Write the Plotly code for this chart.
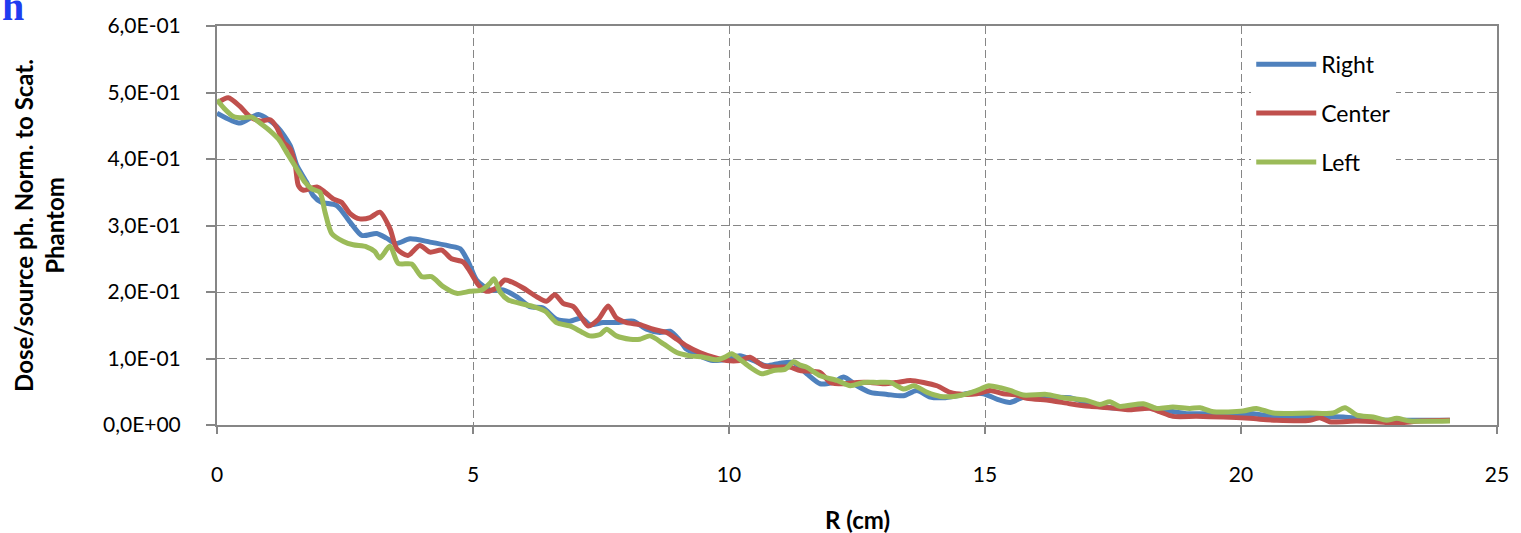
import plotly.graph_objects as go

# Radial dose profiles (R in cm, dose per source photon normalised to the scatter phantom)
r_right = [0.0, 0.45, 0.81, 1.17, 1.43, 1.56, 1.75, 1.88, 2.04, 2.34, 2.6, 2.83, 3.12, 3.31, 3.5,
           3.77, 4.16, 4.55, 4.75, 4.91, 5.07, 5.33, 5.59, 5.85, 6.11, 6.37, 6.63, 6.89, 7.12, 7.28,
           7.54, 7.8, 8.13, 8.39, 8.65, 8.85, 9.04, 9.17, 9.43, 9.69, 9.95, 10.21, 10.47, 10.73,
           11.0, 11.26, 11.52, 11.78, 12.04, 12.24, 12.5, 12.76, 13.09, 13.41, 13.67, 13.93, 14.19,
           14.45, 14.71, 14.97, 15.23, 15.49, 15.82, 16.27, 16.66, 17.05, 17.44, 17.83, 18.22,
           18.61, 18.94, 19.39, 19.92, 20.24, 20.7, 21.35, 22.0, 22.52, 23.3, 24.08]
dose_right = [0.469, 0.454, 0.467, 0.449, 0.42, 0.39, 0.365, 0.345, 0.335, 0.33, 0.305, 0.285, 0.288,
              0.281, 0.273, 0.28, 0.275, 0.269, 0.265, 0.245, 0.218, 0.203, 0.203, 0.193, 0.178,
              0.176, 0.159, 0.156, 0.161, 0.151, 0.154, 0.154, 0.156, 0.144, 0.139, 0.141, 0.127,
              0.114, 0.104, 0.097, 0.099, 0.104, 0.097, 0.089, 0.093, 0.094, 0.077, 0.062, 0.064,
              0.072, 0.059, 0.049, 0.046, 0.044, 0.052, 0.042, 0.041, 0.044, 0.048, 0.047, 0.039,
              0.034, 0.044, 0.042, 0.041, 0.032, 0.026, 0.026, 0.026, 0.021, 0.017, 0.017, 0.017,
              0.017, 0.012, 0.012, 0.012, 0.008, 0.007, 0.007]

r_center = [0.0, 0.22, 0.45, 0.64, 0.84, 1.04, 1.17, 1.3, 1.43, 1.53, 1.59, 1.69, 1.95, 2.11, 2.27,
            2.43, 2.6, 2.79, 2.99, 3.18, 3.38, 3.51, 3.73, 3.96, 4.16, 4.39, 4.58, 4.81, 4.94, 5.1,
            5.26, 5.46, 5.62, 5.79, 5.98, 6.24, 6.43, 6.6, 6.76, 6.96, 7.09, 7.25, 7.45, 7.64, 7.8,
            8.0, 8.26, 8.52, 8.78, 8.98, 9.17, 9.43, 9.69, 9.95, 10.21, 10.41, 10.67, 10.93, 11.19,
            11.39, 11.78, 11.98, 12.24, 12.5, 12.76, 13.02, 13.28, 13.54, 13.8, 14.06, 14.32, 14.58,
            14.84, 15.1, 15.36, 15.62, 15.82, 16.27, 16.66, 17.05, 17.44, 17.83, 18.22, 18.41,
            18.67, 19.13, 19.65, 20.17, 20.7, 21.35, 21.54, 21.73, 22.26, 22.65, 23.04, 23.5, 24.08]
dose_center = [0.484, 0.492, 0.479, 0.464, 0.457, 0.459, 0.447, 0.425, 0.415, 0.39, 0.36, 0.353,
               0.358, 0.35, 0.34, 0.335, 0.318, 0.31, 0.312, 0.32, 0.295, 0.265, 0.255, 0.27, 0.26,
               0.263, 0.25, 0.245, 0.231, 0.211, 0.201, 0.206, 0.218, 0.214, 0.206, 0.193, 0.186,
               0.196, 0.183, 0.178, 0.165, 0.149, 0.159, 0.179, 0.161, 0.154, 0.151, 0.144, 0.139,
               0.129, 0.119, 0.109, 0.102, 0.097, 0.097, 0.102, 0.089, 0.087, 0.087, 0.082, 0.079,
               0.064, 0.062, 0.064, 0.064, 0.062, 0.064, 0.067, 0.064, 0.059, 0.049, 0.046, 0.047,
               0.052, 0.047, 0.045, 0.04, 0.037, 0.032, 0.028, 0.026, 0.023, 0.025, 0.02, 0.013,
               0.013, 0.012, 0.01, 0.007, 0.007, 0.011, 0.005, 0.006, 0.005, 0.003, 0.006, 0.007]

r_left = [0.0, 0.13, 0.32, 0.51, 0.68, 0.84, 1.04, 1.2, 1.36, 1.56, 1.72, 1.85, 2.01, 2.11, 2.24,
          2.47, 2.66, 2.92, 3.08, 3.18, 3.38, 3.54, 3.8, 4.0, 4.19, 4.42, 4.68, 4.94, 5.17, 5.33,
          5.41, 5.53, 5.69, 5.92, 6.18, 6.41, 6.63, 6.89, 7.12, 7.28, 7.48, 7.61, 7.8, 8.07, 8.26,
          8.46, 8.72, 8.98, 9.24, 9.5, 9.76, 9.92, 10.05, 10.21, 10.41, 10.64, 10.87, 11.1, 11.26,
          11.39, 11.52, 11.78, 12.11, 12.37, 12.63, 12.89, 13.15, 13.41, 13.61, 13.87, 14.13,
          14.39, 14.65, 14.91, 15.07, 15.3, 15.49, 15.75, 16.2, 16.53, 16.98, 17.24, 17.44, 17.63,
          18.09, 18.35, 18.67, 19.0, 19.2, 19.46, 20.04, 20.3, 20.63, 21.35, 21.8, 22.03, 22.26,
          22.58, 22.84, 23.04, 23.3, 24.08]
dose_left = [0.489, 0.477, 0.464, 0.462, 0.463, 0.454, 0.442, 0.43, 0.41, 0.385, 0.365, 0.355, 0.35,
             0.32, 0.288, 0.276, 0.271, 0.268, 0.261, 0.251, 0.269, 0.243, 0.242, 0.223, 0.223,
             0.208, 0.198, 0.201, 0.203, 0.213, 0.22, 0.2, 0.188, 0.183, 0.178, 0.171, 0.154, 0.149,
             0.14, 0.134, 0.136, 0.144, 0.134, 0.129, 0.129, 0.134, 0.122, 0.109, 0.104, 0.102,
             0.098, 0.102, 0.107, 0.099, 0.087, 0.077, 0.082, 0.084, 0.095, 0.09, 0.087, 0.074,
             0.067, 0.059, 0.064, 0.064, 0.064, 0.054, 0.059, 0.049, 0.043, 0.043, 0.047, 0.054,
             0.059, 0.056, 0.052, 0.045, 0.046, 0.041, 0.037, 0.031, 0.035, 0.028, 0.032, 0.025,
             0.027, 0.025, 0.026, 0.02, 0.021, 0.025, 0.018, 0.018, 0.018, 0.026, 0.015, 0.012,
             0.007, 0.01, 0.006, 0.006]

series_names = ["Right", "Center", "Left"]
series_colors = ["#4F81BD", "#C0504D", "#9BBB59"]

y_tick_values = [0.0, 0.1, 0.2, 0.3, 0.4, 0.5, 0.6]
y_tick_labels = ["0,0E+00", "1,0E-01", "2,0E-01", "3,0E-01", "4,0E-01", "5,0E-01", "6,0E-01"]
x_tick_values = [0, 5, 10, 15, 20, 25]

FONT = "Lato, 'Open Sans', sans-serif"
GRID = "#868686"

fig = go.Figure()
for name, color, xs, ys in zip(series_names, series_colors,
                               [r_right, r_center, r_left],
                               [dose_right, dose_center, dose_left]):
    fig.add_trace(go.Scatter(
        x=xs, y=ys, name=name, mode="lines", legendgroup=name,
        line=dict(color=color, width=5, shape="spline", smoothing=0.7),
    ))

fig.update_layout(
    width=1521, height=533,
    margin=dict(l=217, r=24, t=22, b=108),
    paper_bgcolor="white", plot_bgcolor="white",
    font=dict(family=FONT, size=21, color="#000"),
    showlegend=True,
    legend=dict(
        x=0.808, y=0.958, xanchor="left", yanchor="top",
        bgcolor="white", borderwidth=0,
        font=dict(family=FONT, size=23, color="#000"),
        tracegroupgap=16, itemwidth=60,
    ),
    xaxis=dict(
        range=[0, 25], tickvals=x_tick_values, ticks="outside", ticklen=7,
        tickcolor=GRID, tickwidth=1.5,
        showline=True, linecolor=GRID, linewidth=1.5, mirror=True,
        showgrid=True, gridcolor=GRID, gridwidth=1, griddash="8px,4px",
        zeroline=False, ticklabelstandoff=23,
        tickfont=dict(family=FONT, size=21, color="#000"),
    ),
    yaxis=dict(
        range=[0, 0.6], tickvals=y_tick_values, ticktext=y_tick_labels,
        ticks="outside", ticklen=9, tickcolor=GRID, tickwidth=1.5,
        showline=True, linecolor=GRID, linewidth=2, mirror=True,
        showgrid=True, gridcolor=GRID, gridwidth=1, griddash="8px,4px",
        zeroline=False, ticklabelstandoff=21,
        tickfont=dict(family=FONT, size=21, color="#000"),
    ),
    annotations=[
        dict(text="<b>Dose/source ph. Norm. to Scat.<br>Phantom</b>",
             xref="paper", yref="paper", x=-0.1395, y=0.50,
             xanchor="center", yanchor="middle", textangle=-90, showarrow=False,
             font=dict(family=FONT, size=24, color="#000")),
        dict(text="<b>R (cm)</b>", xref="paper", yref="paper", x=0.5, y=-0.2357,
             xanchor="center", yanchor="middle", showarrow=False,
             font=dict(family=FONT, size=24, color="#000")),
        dict(text="<b>h</b>", xref="paper", yref="paper", x=-0.1695, y=1.05,
             xanchor="left", yanchor="middle", showarrow=False,
             font=dict(family="'Liberation Serif', serif", size=40, color="#1f3cf0")),
    ],
)

fig.write_html("out.html")
